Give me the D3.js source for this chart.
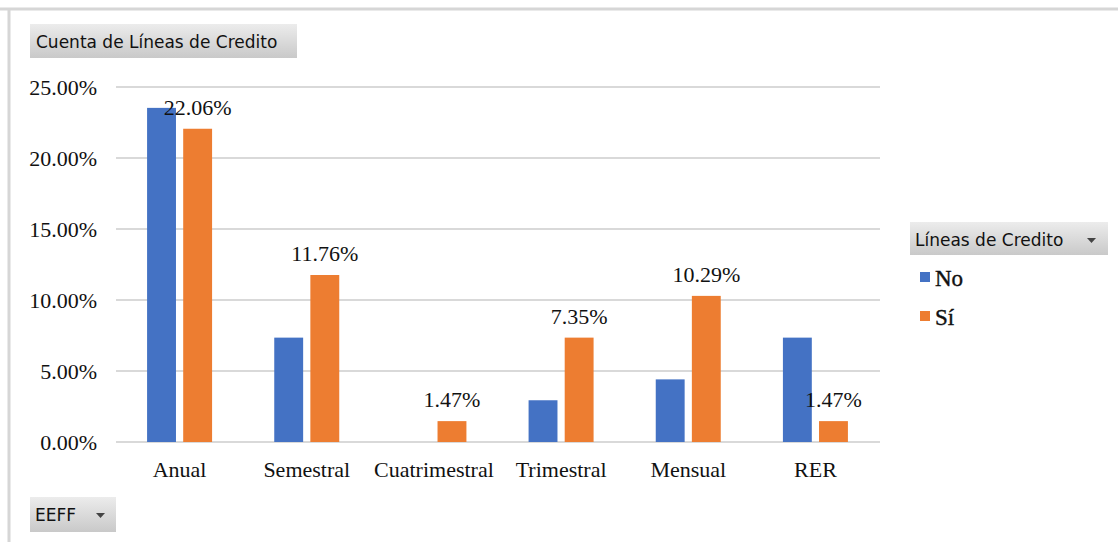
<!DOCTYPE html>
<html>
<head>
<meta charset="utf-8">
<script src="https://cdn.jsdelivr.net/npm/d3@7/dist/d3.min.js"></script>
<style>
  html, body { margin: 0; padding: 0; background: #fff; }
  svg { display: block; }
</style>
</head>
<body>
<svg id="chart" width="1118" height="542"></svg>
<script>
// Periodicidad de revisión de las líneas de crédito (EEFF)
const categories = ["Anual", "Semestral", "Cuatrimestral", "Trimestral", "Mensual", "RER"];
const seriesNames = ["No", "Sí"];
const valuesNo = [0.2353, 0.0735, 0, 0.0294, 0.0441, 0.0735];
const valuesSi = [0.2206, 0.1176, 0.0147, 0.0735, 0.1029, 0.0147];
const yTicks = [0, 0.05, 0.10, 0.15, 0.20, 0.25];
const colors = ["#4472C4", "#ED7D31"];

const svg = d3.select("#chart");
const W = 1118, H = 542;
const serif = "'Liberation Serif', 'Times New Roman', serif";
const sans = "'DejaVu Sans', sans-serif";

// outer frame of the chart area
svg.append("line").attr("x1", 0).attr("x2", W).attr("y1", 9).attr("y2", 9)
  .attr("stroke", "#d6d6d6").attr("stroke-width", 3);
svg.append("line").attr("x1", 9).attr("x2", 9).attr("y1", 9).attr("y2", H)
  .attr("stroke", "#d6d6d6").attr("stroke-width", 3);

// gradient for pivot field buttons
const defs = svg.append("defs");
const grad = defs.append("linearGradient").attr("id", "btn").attr("x1", 0).attr("y1", 0).attr("x2", 0).attr("y2", 1);
grad.append("stop").attr("offset", "0%").attr("stop-color", "#ececec");
grad.append("stop").attr("offset", "100%").attr("stop-color", "#c9c9c9");

const x0 = d3.scaleBand().domain(categories).range([116, 879]).paddingInner(0).paddingOuter(0);
const groupW = 65;
const x1 = d3.scaleBand().domain(seriesNames).range([0, groupW]).paddingInner(0.2);
const y = d3.scaleLinear().domain([0, 0.25]).range([442, 87]);

// gridlines
svg.append("g").selectAll("line").data(yTicks).join("line")
  .attr("x1", 116).attr("x2", 880)
  .attr("y1", d => y(d)).attr("y2", d => y(d))
  .attr("stroke", "#d9d9d9").attr("stroke-width", 2);

// y axis labels
const fmt = d => (d * 100).toFixed(2) + "%";
const yAxis = d3.axisLeft(y).tickValues(yTicks).tickFormat(fmt).tickSize(0).tickPadding(0);
const ya = svg.append("g").attr("transform", "translate(97,0)").call(yAxis);
ya.select(".domain").remove();
ya.selectAll("text").attr("font-family", serif).attr("font-size", 22)
  .attr("fill", "#111").attr("dy", "0.35em");

// x axis labels
const xAxis = d3.axisBottom(x0).tickSize(0).tickPadding(0);
const xa = svg.append("g").attr("transform", "translate(0,477)").call(xAxis);
xa.select(".domain").remove();
xa.selectAll("text").attr("font-family", serif).attr("font-size", 22)
  .attr("fill", "#111").attr("dy", 0);

// bars
const rows = categories.map((c, i) => ({ cat: c, vals: [valuesNo[i], valuesSi[i]] }));
const groups = svg.append("g").selectAll("g").data(rows).join("g")
  .attr("transform", d => `translate(${x0(d.cat) + (x0.bandwidth() - groupW) / 2},0)`);
groups.selectAll("rect").data(d => d.vals.map((v, j) => ({ s: seriesNames[j], v, j })).filter(e => e.v > 0))
  .join("rect")
  .attr("x", d => x1(d.s))
  .attr("width", x1.bandwidth())
  .attr("y", d => y(d.v))
  .attr("height", d => y(0) - y(d.v))
  .attr("fill", d => colors[d.j]);

// data labels on "Sí" series
groups.append("text")
  .attr("x", x1("Sí") + x1.bandwidth() / 2)
  .attr("y", d => y(d.vals[1]) - 14)
  .attr("text-anchor", "middle")
  .attr("font-family", serif).attr("font-size", 22).attr("fill", "#111")
  .text(d => fmt(d.vals[1]));

// title field button
const tb = svg.append("g");
tb.append("rect").attr("x", 30).attr("y", 24).attr("width", 267).attr("height", 34).attr("fill", "url(#btn)");
tb.append("text").attr("x", 36).attr("y", 48).attr("font-family", sans)
  .attr("font-size", 17).attr("fill", "#111").text("Cuenta de Líneas de Credito");

// legend
const lg = svg.append("g");
lg.append("rect").attr("x", 910).attr("y", 222).attr("width", 198).attr("height", 33).attr("fill", "url(#btn)");
lg.append("text").attr("x", 915).attr("y", 246).attr("font-family", sans)
  .attr("font-size", 17).attr("fill", "#111").text("Líneas de Credito");
lg.append("path").attr("d", "M1087,238 l9,0 l-4.5,5 z").attr("fill", "#444");
const items = lg.selectAll("g.item").data(seriesNames).join("g").attr("class", "item")
  .attr("transform", (d, i) => `translate(920,${272 + i * 39})`);
items.append("rect").attr("width", 10).attr("height", 10).attr("fill", (d, i) => colors[i]);
items.append("text").attr("x", 15).attr("y", 13.5).attr("font-family", serif)
  .attr("font-size", 23).attr("fill", "#111").attr("stroke", "#111").attr("stroke-width", 0.4)
  .text(d => d);

// filter field button
const fb = svg.append("g");
fb.append("rect").attr("x", 30).attr("y", 497).attr("width", 86).attr("height", 35).attr("fill", "url(#btn)");
fb.append("text").attr("x", 35).attr("y", 521).attr("font-family", sans)
  .attr("font-size", 17).attr("fill", "#111").text("EEFF");
fb.append("path").attr("d", "M96,513 l9,0 l-4.5,5 z").attr("fill", "#444");
</script>
</body>
</html>
